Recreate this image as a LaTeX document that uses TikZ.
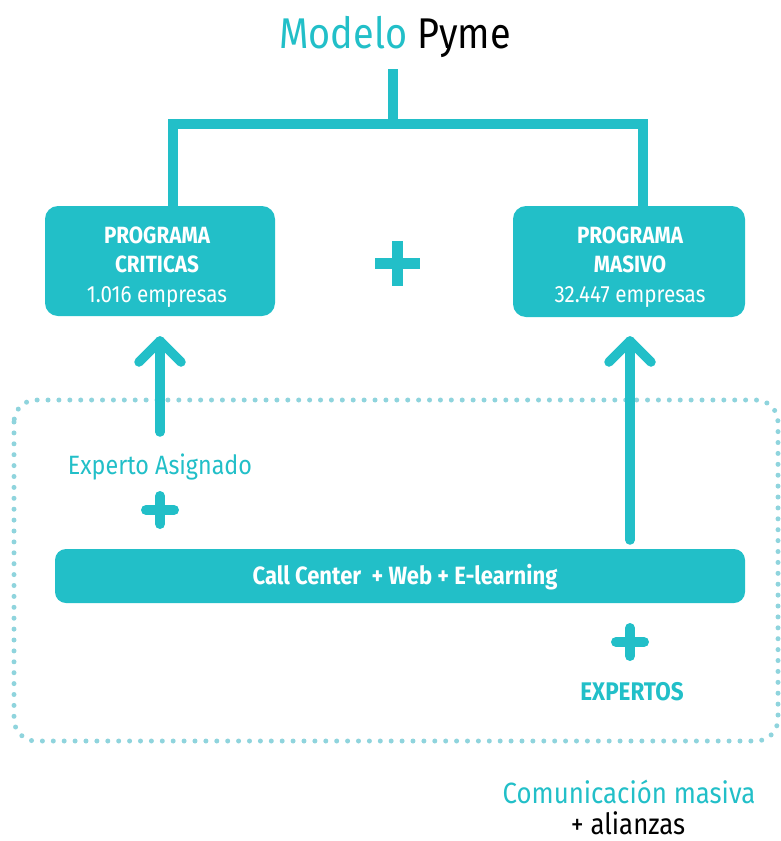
\documentclass[tikz,border=0pt]{standalone}
\usepackage{fontspec}
\setmainfont{Fira Sans}[FakeStretch=0.88]
\definecolor{teal1}{HTML}{22BFC8}
\definecolor{dotc}{HTML}{8FD4DD}
\begin{document}
\begin{tikzpicture}[x=1pt,y=-1pt,
  tree/.style={draw=teal1,line width=10pt},
  prog/.style={fill=teal1,rounded corners=13pt,inner sep=0pt},
  progtxt/.style={anchor=base,text=white,inner sep=0pt,font=\fontsize{23.5}{28}\selectfont},
  arr/.style={draw=teal1,line width=9.5pt,line cap=round,line join=round},
  plusr/.style={draw=teal1,line width=10pt,line cap=round},
  dotbox/.style={draw=dotc,line width=5pt,line cap=round,dash pattern=on 0pt off 10.9pt,rounded corners=22pt}]
\useasboundingbox (0,0) rectangle (780,841);
% title
\node[anchor=base,font=\fontsize{43}{48}\selectfont,inner sep=0pt] (title) at (395,48) {\textcolor{teal1}{Modelo} Pyme};
% boxes
\node[prog,minimum width=230pt,minimum height=110pt] (boxL) at (160,261) {};
\node[progtxt] (l1) at (157,243) {\bfseries PROGRAMA};
\node[progtxt] (l2) at (157,272.5) {\bfseries CRITICAS};
\node[progtxt] (l3) at (157,302) {1.016 empresas};
\node[prog,minimum width=232pt,minimum height=111pt] (boxR) at (629,261.5) {};
\node[progtxt] (r1) at (630,243) {\bfseries PROGRAMA};
\node[progtxt] (r2) at (630,272.5) {\bfseries MASIVO};
\node[progtxt] (r3) at (630,302) {32.447 empresas};
% tree
\coordinate (stemtop) at (393,69);
\coordinate (stembot) at (393,124);
\coordinate (jl) at (173,124);
\coordinate (jr) at (643,124);
\draw[tree] (173,207) -- (jl) -- (jr) -- (643,207);
\draw[tree] (stemtop) -- (stembot);
% middle plus
\node (plusM) at (397.5,263.5) {};
\draw[draw=teal1,line width=11pt] (375,263.5) -- (420,263.5) (397.5,241) -- (397.5,286);
% dotted box
\draw[dotbox] (14,400) rectangle (778,741);
% call center bar
\node[fill=teal1,rounded corners=11pt,minimum width=690pt,minimum height=54pt,inner sep=0pt] (bar) at (400,576) {};
\node[anchor=base,text=white,font=\bfseries\fontsize{25}{29}\selectfont,inner sep=0pt] (bartxt) at (405,584) {Call Center\ \ + Web + E-learning};
% left arrow
\coordinate (a1s) at (160,432);
\coordinate (a1e) at (160,341);
\draw[arr] (a1s) -- (a1e);
\draw[arr] ([shift={(-21,21)}]a1e) -- (a1e) -- ([shift={(21,21)}]a1e);
% right arrow
\coordinate (a2s) at (630,540);
\coordinate (a2e) at (630,341);
\draw[arr] (a2s) -- (a2e);
\draw[arr] ([shift={(-21,21)}]a2e) -- (a2e) -- ([shift={(21,21)}]a2e);
% experto asignado
\node[anchor=base,text=teal1,font=\fontsize{26.5}{30}\selectfont,inner sep=0pt] (exp) at (160,474) {Experto Asignado};
\coordinate (p1) at (160,510);
\draw[plusr] ([xshift=-14]p1) -- ([xshift=14]p1) ([yshift=-14]p1) -- ([yshift=14]p1);
% right plus & expertos
\coordinate (p2) at (630,642);
\draw[plusr] ([xshift=-14]p2) -- ([xshift=14]p2) ([yshift=-14]p2) -- ([yshift=14]p2);
\node[anchor=base,text=teal1,font=\bfseries\fontsize{25.5}{29}\selectfont,inner sep=0pt] (experts) at (632,700) {EXPERTOS};
% bottom text
\node[anchor=base,text=teal1,font=\fontsize{29.3}{33}\selectfont,inner sep=0pt] (com) at (629,803) {Comunicación masiva};
\node[anchor=base,font=\fontsize{29.3}{33}\selectfont,inner sep=0pt] (ali) at (628,834) {+ alianzas};
\end{tikzpicture}
\end{document}
